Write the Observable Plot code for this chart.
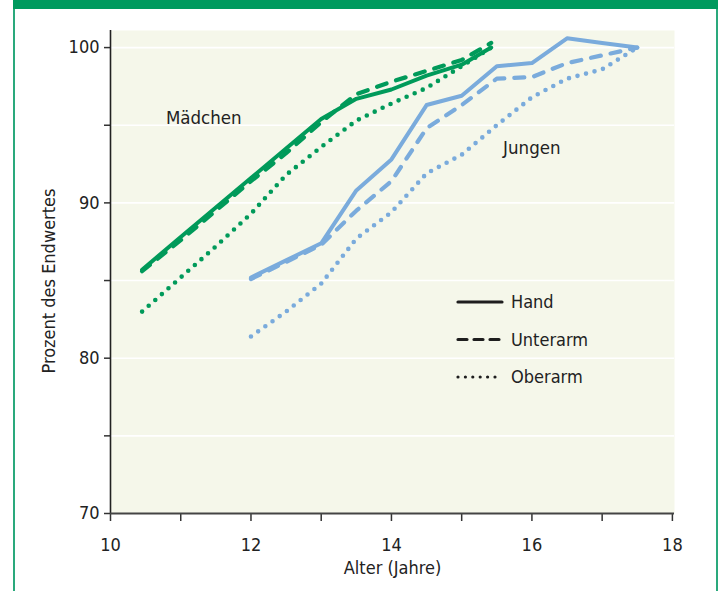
<!DOCTYPE html>
<html><head><meta charset="utf-8">
<script src="https://cdn.jsdelivr.net/npm/d3@7"></script>
<script src="https://cdn.jsdelivr.net/npm/@observablehq/plot@0.6"></script>
<style>
html,body{margin:0;padding:0;background:#fff;width:719px;height:591px;overflow:hidden}
#frame{position:absolute;left:13px;top:0;width:701px;height:600px;border-left:2px solid #2aa97c;border-right:2px solid #2aa97c;}
#bar{position:absolute;left:13px;top:0;width:705px;height:9px;background:#009a5e}
#chart{position:absolute;left:0;top:0}
</style></head><body>
<div id="frame"></div><div id="bar"></div><div id="chart"></div>
<script>
// ---- data ----
const girlsAge = [10.45, 11, 11.5, 12, 12.5, 13, 13.5, 14, 14.5, 15, 15.42];
const girlsHand = [85.7, 87.8, 89.7, 91.6, 93.5, 95.4, 96.7, 97.3, 98.2, 98.9, 100.0];
const girlsUnterarm = [85.6, 87.6, 89.5, 91.4, 93.2, 95.2, 97.0, 97.8, 98.5, 99.2, 100.3];
const girlsOberarm = [83.0, 85.2, 87.2, 89.3, 91.8, 93.6, 95.3, 96.4, 97.4, 98.8, 100.0];

const boysAge = [12, 12.5, 13, 13.5, 14, 14.5, 15, 15.5, 16, 16.5, 17, 17.5];
const boysHand = [85.2, 86.3, 87.4, 90.8, 92.8, 96.3, 96.9, 98.8, 99.0, 100.6, 100.3, 100.0];
const boysUnterarm = [85.1, 86.2, 87.3, 89.5, 91.4, 94.8, 96.3, 98.0, 98.1, 99.0, 99.5, 100.0];
const boysOberarm = [81.4, 83.0, 84.8, 87.7, 89.4, 91.9, 93.1, 95.0, 96.8, 98.0, 98.6, 100.0];

const measures = ["Hand", "Unterarm", "Oberarm"];
const groups = ["Mädchen", "Jungen"];
const xTicks = [10, 11, 12, 13, 14, 15, 16, 17, 18];
const yTicks = [70, 75, 80, 85, 90, 95, 100];
const xTitle = "Alter (Jahre)";
const yTitle = "Prozent des Endwertes";
const annotations = [
  {label: "Mädchen", x: 10.79, y: 95.45},
  {label: "Jungen", x: 15.59, y: 93.55}
];

// ---- build table ----
const series = [
  {group: "Mädchen", measure: "Hand", age: girlsAge, val: girlsHand},
  {group: "Mädchen", measure: "Unterarm", age: girlsAge, val: girlsUnterarm},
  {group: "Mädchen", measure: "Oberarm", age: girlsAge, val: girlsOberarm},
  {group: "Jungen", measure: "Hand", age: boysAge, val: boysHand},
  {group: "Jungen", measure: "Unterarm", age: boysAge, val: boysUnterarm},
  {group: "Jungen", measure: "Oberarm", age: boysAge, val: boysOberarm}
].map(s => ({...s, rows: s.age.map((a, i) => ({age: a, value: s.val[i]}))}));

// ---- styles ----
const FONT = '"DejaVu Sans Condensed", "Liberation Sans Narrow", "DejaVu Sans", sans-serif';
const colorOf = {"Mädchen": "#009a5a", "Jungen": "#7aabdc"};
const dashOf = {
  Hand: {strokeDasharray: null, strokeWidth: 4},
  Unterarm: {strokeDasharray: "10,10", strokeWidth: 4.2},
  Oberarm: {strokeDasharray: "0,8.8", strokeWidth: 4.6}
};

const lineMarks = series.map(s => Plot.line(s.rows, {
  x: "age", y: "value",
  stroke: colorOf[s.group],
  strokeWidth: dashOf[s.measure].strokeWidth,
  strokeDasharray: dashOf[s.measure].strokeDasharray,
  strokeLinecap: "round", strokeLinejoin: "round"
}));

const chart = Plot.plot({
  width: 719, height: 591,
  marginLeft: 110, marginRight: 45, marginTop: 30, marginBottom: 78,
  style: {fontFamily: FONT, fontSize: "18px", color: "#222", background: "transparent", overflow: "visible"},
  x: {domain: [10, 18.03]},
  y: {domain: [70, 101.1]},
  marks: [
    Plot.frame({fill: "#f5f7ea", stroke: "none"}),
    Plot.gridY(yTicks.filter(d => d > 70), {stroke: "#ffffff", strokeOpacity: 1, strokeWidth: 1.6}),
    Plot.axisX({ticks: xTicks, tickSize: 8, tickPadding: 17, tickFormat: d => d % 2 === 0 ? String(d) : "", label: null, stroke: "#333", strokeWidth: 1.5, fontSize: 18}),
    Plot.axisY({ticks: yTicks, tickSize: 6, tickPadding: 5, tickFormat: d => d % 10 === 0 ? String(d) : "", label: null, stroke: "#333", strokeWidth: 1.5, fontSize: 18}),
    Plot.ruleX([10], {stroke: "#222", strokeWidth: 1.6}),
    Plot.ruleY([70], {stroke: "#444", strokeWidth: 2}),
    ...lineMarks,
    Plot.text(annotations, {x: "x", y: "y", text: "label", textAnchor: "start", fontSize: 18.5, fill: "#222"}),
    Plot.text([xTitle], {frameAnchor: "bottom", dy: 60, fontSize: 18, fill: "#222"})
  ]
});
document.getElementById("chart").appendChild(chart);

const svg = d3.select(chart);
// y-axis title (rotated), placed left of the axis
svg.append("text")
  .attr("transform", "translate(49,281) rotate(-90)")
  .attr("text-anchor", "middle")
  .attr("dy", "0.35em")
  .attr("font-size", 18).attr("fill", "#222")
  .attr("font-family", FONT)
  .text(yTitle);

// ---- legend (inside the plot) ----
const legendLayout = {x0: 458, x1: 502, tx: 511, y0: 302, dy: 37.5};
const legendDash = {Hand: null, Unterarm: "9,7", Oberarm: "0,7.4"};
const lg = svg.append("g").attr("text-anchor", "start");
measures.forEach((m, i) => {
  const y = legendLayout.y0 + i * legendLayout.dy;
  lg.append("line")
    .attr("x1", legendLayout.x0).attr("x2", legendLayout.x1)
    .attr("y1", y).attr("y2", y)
    .attr("stroke", "#1e1e1e").attr("stroke-width", 3.2)
    .attr("stroke-linecap", "round")
    .attr("stroke-dasharray", legendDash[m]);
  lg.append("text")
    .attr("x", legendLayout.tx).attr("y", y)
    .attr("dy", "0.35em")
    .attr("text-anchor", "start")
    .attr("font-size", 18).attr("fill", "#222")
    .attr("font-family", FONT)
    .text(m);
});
</script>
</body></html>
